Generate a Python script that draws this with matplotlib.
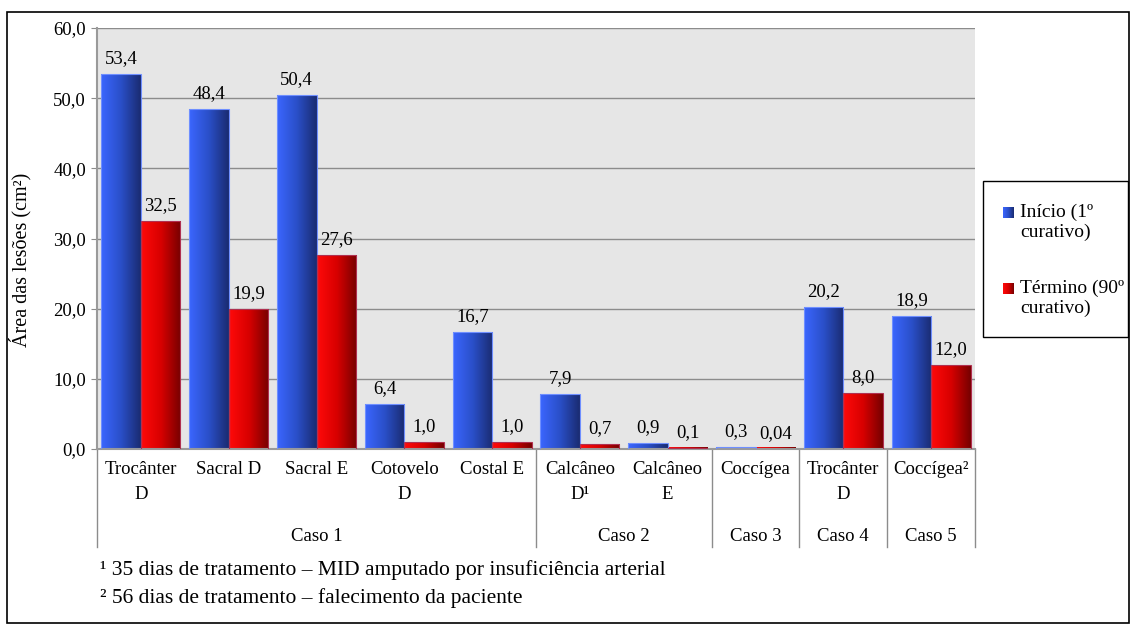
import numpy as np
import matplotlib.pyplot as plt
from matplotlib.colors import LinearSegmentedColormap
from matplotlib.patches import Rectangle
from matplotlib.transforms import blended_transform_factory

plt.rcParams['font.family'] = ['Liberation Serif', 'DejaVu Serif']

lesoes = ["Trocânter\nD", "Sacral D", "Sacral E", "Cotovelo\nD", "Costal E",
          "Calcâneo\nD¹", "Calcâneo\nE", "Coccígea", "Trocânter\nD", "Coccígea²"]
inicio = [53.4, 48.4, 50.4, 6.4, 16.7, 7.9, 0.9, 0.3, 20.2, 18.9]
termino = [32.5, 19.9, 27.6, 1.0, 1.0, 0.7, 0.1, 0.04, 8.0, 12.0]
inicio_txt = ["53,4", "48,4", "50,4", "6,4", "16,7", "7,9", "0,9", "0,3", "20,2", "18,9"]
termino_txt = ["32,5", "19,9", "27,6", "1,0", "1,0", "0,7", "0,1", "0,04", "8,0", "12,0"]
casos = ["Caso 1", "Caso 2", "Caso 3", "Caso 4", "Caso 5"]
casos_n = [5, 2, 1, 1, 1]
serie_labels = [["Início (1º", "curativo)"], ["Término (90º", "curativo)"]]
notas = ["¹ 35 dias de tratamento – MID amputado por insuficiência arterial",
         "² 56 dias de tratamento – falecimento da paciente"]

blue_cmap = LinearSegmentedColormap.from_list("b", ["#3b66ff", "#2a4fc8", "#1a2b70"])
red_cmap = LinearSegmentedColormap.from_list("r", ["#ff0a0a", "#d80000", "#760000"])

W, H = 1130, 624
fig = plt.figure(figsize=(W / 100, H / 100), dpi=100)
ax = fig.add_axes([97 / W, 1 - 449 / H, 878 / W, 421 / H])
ax.set_facecolor("#e6e6e6")

x = np.arange(len(lesoes))
w = 0.45
b1 = ax.bar(x - w / 2, inicio, w, facecolor="none", edgecolor="#6f8fff", linewidth=0.8, zorder=3)
b2 = ax.bar(x + w / 2, termino, w, facecolor="none", edgecolor="#b03050", linewidth=0.8, zorder=3)

grad = np.linspace(0, 1, 256).reshape(1, -1)
for bars, cmap in [(b1, blue_cmap), (b2, red_cmap)]:
    for p in bars:
        h = max(p.get_height(), 0.25)
        im = ax.imshow(grad, cmap=cmap, aspect="auto", zorder=2,
                       extent=[p.get_x(), p.get_x() + p.get_width(), 0, h])
        clip = Rectangle((p.get_x(), 0), p.get_width(), h, transform=ax.transData)
        im.set_clip_path(clip)

for bars, txts in [(b1, inicio_txt), (b2, termino_txt)]:
    for p, t in zip(bars, txts):
        ax.annotate(t, (p.get_x() + p.get_width() / 2, p.get_height()), xytext=(0, 5),
                    textcoords="offset points", ha="center", va="bottom", fontsize=13.5)

ax.set_xlim(-0.5, len(lesoes) - 0.5)
ax.set_ylim(0, 60)
ax.set_yticks(np.arange(0, 61, 10))
ax.set_yticklabels([f"{v:.1f}".replace(".", ",") for v in np.arange(0, 61, 10)], fontsize=13.5)
ax.yaxis.grid(True, color="#8c8c8c", linewidth=1)
ax.set_axisbelow(True)
ax.set_xticks(x)
ax.set_xticklabels(lesoes, fontsize=13.5, linespacing=1.6)
ax.tick_params(axis="x", length=0, pad=9)
ax.tick_params(axis="y", length=4, color="#8c8c8c", direction="out", pad=4)
for s in ["top", "right"]:
    ax.spines[s].set_visible(False)
for s in ["left", "bottom"]:
    ax.spines[s].set_color("#9a9a9a")
    ax.spines[s].set_linewidth(1.5)

fig.text(20 / W, 1 - 260 / H, "Área das lesões (cm²)", rotation=90, fontsize=14.5,
         ha="center", va="center")

trans = blended_transform_factory(ax.transData, ax.transAxes)
pos = -0.5
ax.plot([pos, pos], [0, -0.233], transform=trans, color="#8c8c8c", lw=1, clip_on=False)
for caso, n in zip(casos, casos_n):
    ax.text(pos + n / 2, -0.207, caso, transform=trans, ha="center", va="center", fontsize=13.5)
    pos += n
    ax.plot([pos, pos], [0, -0.233], transform=trans, color="#8c8c8c", lw=1, clip_on=False)

fig.text(100 / W, 1 - 570 / H, notas[0], fontsize=15.5, va="center")
fig.text(100 / W, 1 - 598 / H, notas[1], fontsize=15.5, va="center")

# legenda desenhada a mao (quadrado alinhado com a primeira linha)
fig.patches.append(Rectangle((983 / W, 1 - 337 / H), 145 / W, 156 / H, transform=fig.transFigure,
                             fill=False, edgecolor="black", lw=1))
for i, (cmap, linhas) in enumerate(zip([blue_cmap, red_cmap], serie_labels)):
    y0 = 212 + i * 76
    sq = fig.add_axes([1003 / W, 1 - (y0 + 6) / H, 11 / W, 11 / H])
    sq.imshow(grad, cmap=cmap, aspect="auto")
    sq.set_xticks([])
    sq.set_yticks([])
    for s in sq.spines.values():
        s.set_visible(False)
    for j, linha in enumerate(linhas):
        fig.text(1020 / W, 1 - (y0 + j * 20) / H, linha, fontsize=14, va="center")

fig.patches.append(Rectangle((7 / W, 1 / H), 1 - 8 / W, 1 - 13 / H,
                             transform=fig.transFigure, fill=False, edgecolor="black", lw=1.2))

fig.savefig("out.png", dpi=100)
